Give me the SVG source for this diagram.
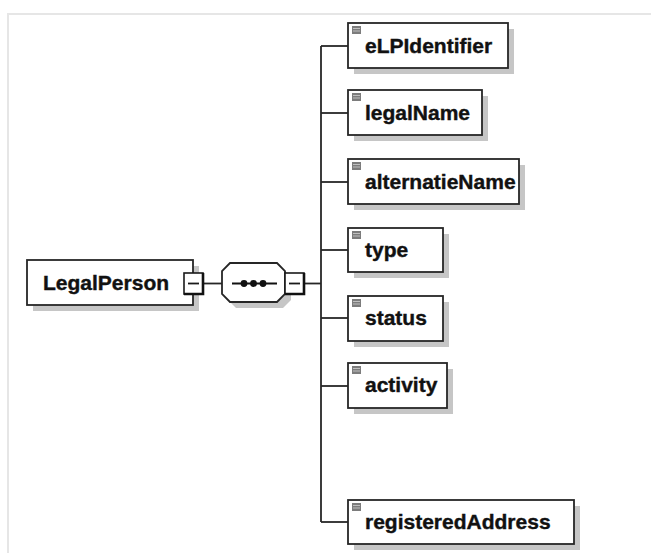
<svg xmlns="http://www.w3.org/2000/svg" width="651" height="553" viewBox="0 0 651 553">
  <style>
    .frame { fill: none; stroke: #e6e6e6; stroke-width: 2; }
    .shadow { fill: #c6c6c6; }
    .box { fill: #ffffff; stroke: #262626; stroke-width: 1.8; }
    .label { font-family: "Liberation Sans", Arial, sans-serif; font-weight: bold; font-size: 21px; fill: #111111; stroke: #111111; stroke-width: 0.4; }
    .wire { fill: none; stroke: #262626; stroke-width: 1.8; }
    .btn { fill: #ffffff; stroke: #1a1a1a; stroke-width: 1.6; }
    .btnshade { fill: none; stroke: #111111; stroke-width: 2.6; }
    .icon { fill: #7c7c7c; }
    .iconline { stroke: #d0d0d0; stroke-width: 0.8; }
  </style>
  <defs>
    <!-- element marker in the top-left corner of each child element -->
    <g id="elemIcon">
      <rect class="icon" x="0" y="0" width="9" height="8"/>
      <line class="iconline" x1="1" y1="2.5" x2="8" y2="2.5"/>
      <line class="iconline" x1="1" y1="5" x2="8" y2="5"/>
    </g>
    <!-- collapse (minus) button -->
    <g id="minusBtn">
      <rect class="btn" x="0" y="0" width="19" height="21"/>
      <polyline class="btnshade" points="19,0 19,21 0,21"/>
      <line x1="4" y1="10.5" x2="15" y2="10.5" stroke="#1a1a1a" stroke-width="1.8"/>
    </g>
  </defs>

  <rect x="0" y="0" width="651" height="553" fill="#ffffff"/>
  <polyline class="frame" points="8,553 8,14 651,14"/>

  <!-- connectors -->
  <g id="connectors">
    <line class="wire" x1="203" y1="283.5" x2="222" y2="283.5"/>
    <line class="wire" x1="305" y1="283.5" x2="321" y2="283.5"/>
    <line class="wire" x1="321" y1="46" x2="321" y2="522"/>
    <line class="wire" x1="321" y1="46" x2="348" y2="46"/>
    <line class="wire" x1="321" y1="113" x2="348" y2="113"/>
    <line class="wire" x1="321" y1="182" x2="348" y2="182"/>
    <line class="wire" x1="321" y1="250" x2="348" y2="250"/>
    <line class="wire" x1="321" y1="318" x2="348" y2="318"/>
    <line class="wire" x1="321" y1="386" x2="348" y2="386"/>
    <line class="wire" x1="321" y1="522" x2="348" y2="522"/>
  </g>

  <!-- root element -->
  <g id="LegalPerson">
    <rect class="shadow" x="33" y="266" width="166" height="45"/>
    <rect class="box" x="27" y="260" width="166" height="45"/>
    <text class="label" x="43" y="290">LegalPerson</text>
    <use href="#minusBtn" x="184" y="273"/>
  </g>

  <!-- sequence compositor -->
  <g id="sequence">
    <polygon class="shadow" points="236,269 283,269 291,277 291,300 283,308 236,308 228,300 228,277"/>
    <polygon fill="#ffffff" stroke="#262626" stroke-width="1.8" points="230,263 277,263 285,271 285,294 277,302 230,302 222,294 222,271"/>
    <line x1="232" y1="283.5" x2="277" y2="283.5" stroke="#111111" stroke-width="1.8"/>
    <circle cx="244" cy="283.5" r="3.4" fill="#111111"/>
    <circle cx="253.5" cy="283.5" r="3.4" fill="#111111"/>
    <circle cx="263" cy="283.5" r="3.4" fill="#111111"/>
    <use href="#minusBtn" x="285" y="273"/>
  </g>

  <!-- child elements -->
  <g id="eLPIdentifier">
    <rect class="shadow" x="354" y="29" width="160" height="45"/>
    <rect class="box" x="348" y="23" width="160" height="45"/>
    <use href="#elemIcon" x="352" y="26"/>
    <text class="label" x="365" y="52.5">eLPIdentifier</text>
  </g>

  <g id="legalName">
    <rect class="shadow" x="354" y="96" width="134" height="45"/>
    <rect class="box" x="348" y="90" width="134" height="45"/>
    <use href="#elemIcon" x="352" y="93"/>
    <text class="label" x="365" y="119.5">legalName</text>
  </g>

  <g id="alternatieName">
    <rect class="shadow" x="354" y="165" width="171" height="45"/>
    <rect class="box" x="348" y="159" width="171" height="45"/>
    <use href="#elemIcon" x="352" y="162"/>
    <text class="label" x="365" y="188.5">alternatieName</text>
  </g>

  <g id="type">
    <rect class="shadow" x="354" y="234" width="95" height="44"/>
    <rect class="box" x="348" y="228" width="95" height="44"/>
    <use href="#elemIcon" x="352" y="231"/>
    <text class="label" x="365" y="256.5">type</text>
  </g>

  <g id="status">
    <rect class="shadow" x="354" y="302" width="95" height="45"/>
    <rect class="box" x="348" y="296" width="95" height="45"/>
    <use href="#elemIcon" x="352" y="299"/>
    <text class="label" x="365" y="325">status</text>
  </g>

  <g id="activity">
    <rect class="shadow" x="354" y="369" width="99" height="45"/>
    <rect class="box" x="348" y="363" width="99" height="45"/>
    <use href="#elemIcon" x="352" y="366"/>
    <text class="label" x="365" y="392">activity</text>
  </g>

  <g id="registeredAddress">
    <rect class="shadow" x="354" y="506" width="226" height="44"/>
    <rect class="box" x="348" y="500" width="226" height="44"/>
    <use href="#elemIcon" x="352" y="503"/>
    <text class="label" x="365" y="529">registeredAddress</text>
  </g>
</svg>
